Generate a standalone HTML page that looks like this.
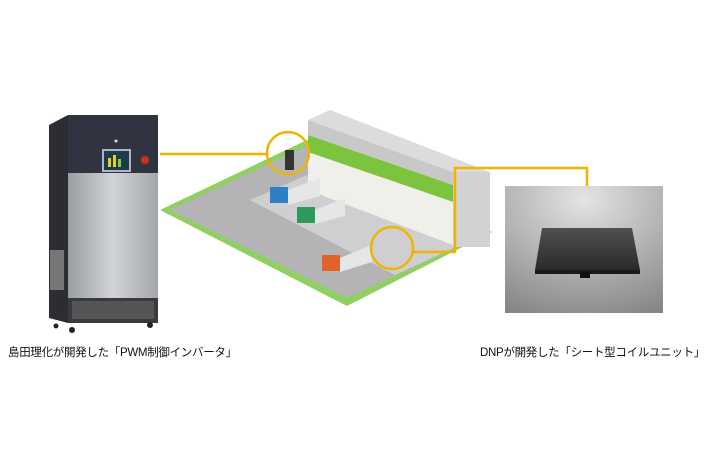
<!DOCTYPE html>
<html><head><meta charset="utf-8"><style>
html,body{margin:0;padding:0;background:#fff;}
body{width:710px;height:474px;position:relative;overflow:hidden;font-family:"Liberation Sans","Noto Sans CJK JP",sans-serif;}
.t{position:absolute;font-size:11.5px;color:#111;white-space:nowrap;letter-spacing:-0.3px;}
</style></head><body>
<svg width="710" height="474" style="position:absolute;left:0;top:0">
<defs>
<linearGradient id="steel" x1="0" x2="1"><stop offset="0" stop-color="#9a9ea2"/><stop offset=".5" stop-color="#d2d4d6"/><stop offset="1" stop-color="#a4a7aa"/></linearGradient>
<radialGradient id="ph" cx=".5" cy=".1" r="1"><stop offset="0" stop-color="#e4e4e4"/><stop offset="1" stop-color="#858585"/></radialGradient>
<linearGradient id="pad" x1="0" y1="0" x2="0" y2="1"><stop offset="0" stop-color="#505050"/><stop offset="1" stop-color="#2a2a2a"/></linearGradient>
</defs>
<!-- machine -->
<polygon points="49,125 68,115 68,323 49,318" fill="#2b2d33"/>
<rect x="50" y="250" width="14" height="40" fill="#777"/>
<rect x="68" y="115" width="90" height="58" fill="#2f3440"/>
<rect x="68" y="173" width="90" height="125" fill="url(#steel)"/>
<rect x="68" y="298" width="90" height="25" fill="#3a3a3c"/>
<rect x="72" y="301" width="82" height="18" fill="#555558"/>
<rect x="102" y="149" width="29" height="23" fill="#aeb4c0"/>
<rect x="104" y="151" width="25" height="19" fill="#1e3b4d"/>
<rect x="108" y="158" width="3" height="9" fill="#e8d020"/><rect x="113" y="155" width="3" height="12" fill="#e8d020"/><rect x="118" y="159" width="3" height="8" fill="#7ccf40"/>
<circle cx="145" cy="160" r="4" fill="#d03020"/>
<circle cx="116" cy="141" r="1.5" fill="#ddd"/>
<circle cx="72" cy="330" r="3" fill="#222"/><circle cx="150" cy="325" r="3" fill="#222"/><circle cx="56" cy="326" r="2.5" fill="#222"/>
<!-- ground -->
<polygon points="160,210 307,140 492,232 347,306" fill="#8fd060"/>
<polygon points="170,210 307,146 485,234 347,298" fill="#b4b4b6"/>
<polygon points="250,200 307,175 460,245 395,275" fill="#cfcfd1"/>
<!-- building -->
<polygon points="308,120 330,110 490,172 490,247 453,247 453,172" fill="#dcdcdc"/>
<polygon points="308,120 453,172 453,185 308,135" fill="#c8c8c8"/>
<polygon points="308,135 453,185 453,202 308,152" fill="#7cc43e"/>
<polygon points="308,152 453,202 453,245 308,190" fill="#f1efe9"/>
<polygon points="453,172 490,172 490,247 453,247" fill="#d2d2d2"/>
<!-- trucks -->
<rect x="270" y="187" width="18" height="16" fill="#2f7fc8"/><polygon points="288,190 320,178 320,196 288,205" fill="#e6e6e6"/>
<rect x="297" y="207" width="18" height="16" fill="#2f9a5a"/><polygon points="315,210 345,198 345,216 315,224" fill="#e6e6e6"/>
<rect x="322" y="255" width="18" height="16" fill="#e0642a"/><polygon points="340,258 372,245 372,262 340,272" fill="#e6e6e6"/>
<rect x="285" y="150" width="9" height="20" fill="#333"/>
<!-- connectors -->
<g fill="none" stroke="#f0b400" stroke-width="2.5">
<line x1="160" y1="154" x2="267" y2="154"/>
<circle cx="288" cy="153" r="21"/>
<circle cx="392" cy="248" r="21"/>
<polyline points="413,252 455,252 455,168 587,168 587,186"/>
</g>
<!-- photo -->
<rect x="505" y="186" width="158" height="127" fill="url(#ph)"/>
<polygon points="542,228 632,228 640,270 535,270" fill="url(#pad)"/>
<rect x="535" y="270" width="105" height="4" fill="#1a1a1a"/>
<rect x="580" y="272" width="10" height="6" fill="#111"/>
</svg>
<div class="t" style="left:8px;top:344px;">島田理化が開発した「PWM制御インバータ」</div>
<div class="t" style="left:480px;top:344px;">DNPが開発した「シート型コイルユニット」</div>
</body></html>
